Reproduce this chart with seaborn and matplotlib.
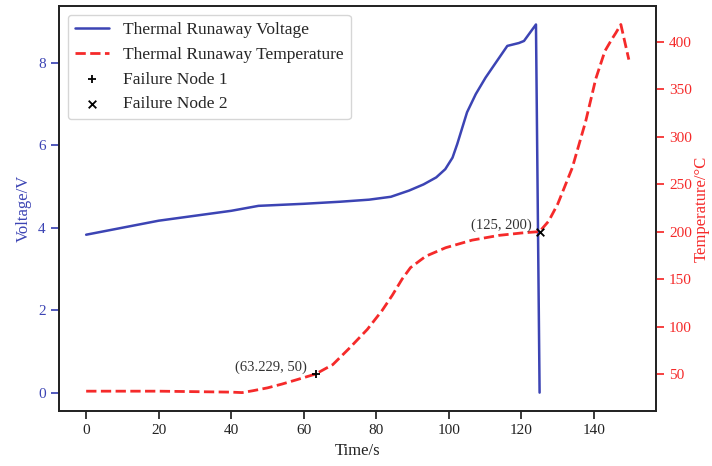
import matplotlib
matplotlib.use("Agg")
import matplotlib.pyplot as plt
import seaborn as sns
import pandas as pd

# ---- data ----
time_v = [0, 20, 40, 47.5, 60, 70, 78, 84, 89, 93, 96.5, 99, 101, 102.3, 103.7,
          105, 107.4, 110.1, 112.9, 116.1, 119.3, 120.7, 124, 125]
voltage = [3.83, 4.17, 4.41, 4.53, 4.58, 4.63, 4.68, 4.75, 4.9, 5.05, 5.22, 5.42,
           5.7, 6.03, 6.43, 6.8, 7.24, 7.64, 8.0, 8.41, 8.48, 8.53, 8.93, 0.0]

time_t = [0, 20, 40, 43, 46, 50, 54, 58, 63.229, 68, 72.5, 77.5, 81.6, 84.4, 87.1,
          89.4, 93.6, 99.1, 106.4, 113.8, 120, 125, 127.5, 130, 134, 137.7, 140.5,
          143, 145, 146, 147.4, 149.6]
temperature = [32, 32, 31, 30.5, 32.5, 35.5, 39.5, 44, 50, 60, 77, 97, 117, 133,
               150, 162, 174, 183, 191, 196, 198.5, 200, 211, 229, 267, 316, 361,
               390, 403, 409, 418, 381]

node1_t = [63.229]
node1_T = [50]
node2_t = [125]
node2_T = [200]
node1_label = "(63.229, 50)"
node2_label = "(125, 200)"

BLUE = "#3c44b4"
RED = "#f52a2a"

sns.set_theme(style="ticks")
plt.rcParams["font.family"] = ["Liberation Serif", "DejaVu Serif"]
plt.rcParams["axes.edgecolor"] = "#222222"
plt.rcParams["xtick.color"] = "#222222"

fig = plt.figure(figsize=(7.12, 4.66), dpi=100)
ax = fig.add_axes([0.0829, 0.118, 0.8384, 0.869])
ax2 = ax.twinx()

dv = pd.DataFrame({"t": time_v, "v": voltage})
dt = pd.DataFrame({"t": time_t, "T": temperature})

sns.lineplot(data=dv, x="t", y="v", ax=ax, color=BLUE, linewidth=1.8,
             label="Thermal Runaway Voltage", sort=False, legend=False)
sns.lineplot(data=dt, x="t", y="T", ax=ax2, color=RED, linewidth=2.0,
             linestyle="--", label="Thermal Runaway Temperature", sort=False,
             legend=False)
sns.scatterplot(x=node1_t, y=node1_T, ax=ax2, marker="+", color="black", s=40,
                linewidth=1.3, label="Failure Node 1", legend=False, zorder=5)
sns.scatterplot(x=node2_t, y=node2_T, ax=ax2, marker="x", color="black", s=30,
                linewidth=1.3, label="Failure Node 2", legend=False, zorder=5)

ax2.annotate(node1_label, xy=(node1_t[0], node1_T[0]), xytext=(-6, 0),
             textcoords="offset points", ha="right", va="bottom",
             fontsize=10.5, color="#333333")
ax2.annotate(node2_label, xy=(node2_t[0], node2_T[0]), xytext=(-6, 0),
             textcoords="offset points", ha="right", va="bottom",
             fontsize=10.5, color="#333333")

ax.set_xlabel("Time/s", fontsize=12, color="#222222")
ax.set_ylabel("Voltage/V", fontsize=12, color=BLUE)
ax2.set_ylabel("Temperature/°C", fontsize=12, color=RED)
ax.yaxis.set_label_coords(-0.045, 0.5)
ax2.yaxis.set_label_coords(1.064, 0.5)

ax.set_xticks([0, 20, 40, 60, 80, 100, 120, 140])
ax.set_yticks([0, 2, 4, 6, 8])
ax2.set_yticks([50, 100, 150, 200, 250, 300, 350, 400])
ax.tick_params(axis="x", labelsize=11)
ax.tick_params(axis="y", colors=BLUE, labelsize=11)
ax2.tick_params(axis="y", colors=RED, labelsize=11)
ax.margins(x=0.05, y=0.05)
ax2.margins(x=0.05, y=0.05)

h1, l1 = ax.get_legend_handles_labels()
h2, l2 = ax2.get_legend_handles_labels()
leg = ax2.legend(h1 + h2, l1 + l2, loc="upper left", fontsize=12.5, frameon=True)
leg.get_frame().set_edgecolor("#cccccc")

fig.savefig("out.png", dpi=100)
